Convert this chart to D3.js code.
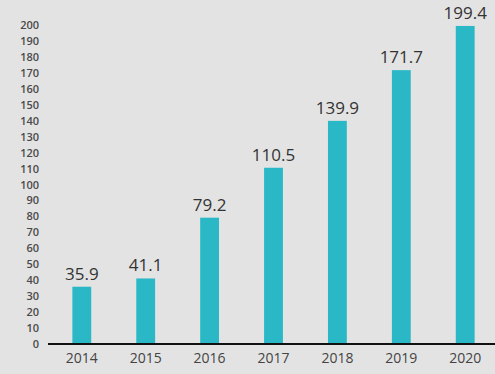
<!DOCTYPE html>
<html><head><meta charset="utf-8">
<script src="https://cdn.jsdelivr.net/npm/d3@7"></script>
<style>
html,body{margin:0;padding:0;background:#e3e3e3;}
svg{display:block;}
text{font-family:"Open Sans",sans-serif;}
</style></head>
<body><svg id="c" width="495" height="374"></svg>
<script>
const years = ["2014","2015","2016","2017","2018","2019","2020"];
const values = [35.9, 41.1, 79.2, 110.5, 139.9, 171.7, 199.4];
const yTicks = [0,10,20,30,40,50,60,70,80,90,100,110,120,130,140,150,160,170,180,190,200];

const svg = d3.select("#c");
svg.append("rect").attr("width",495).attr("height",374).attr("fill","#e3e3e3");

const x = d3.scaleBand().domain(years).range([50, 497]).paddingInner(0.705).paddingOuter(0.35);
const y = d3.scaleLinear().domain([0, 200]).range([344, 25]);

// y axis labels
const ya = svg.append("g").attr("transform","translate(39,0)")
  .call(d3.axisLeft(y).tickValues(yTicks).tickSize(0).tickPadding(0));
ya.select(".domain").remove();
ya.selectAll("text").attr("font-size","11px").attr("fill","#4a4a4a").attr("font-family","'Open Sans',sans-serif").attr("font-weight","600");

// bars
svg.selectAll("rect.bar").data(years).enter().append("rect")
  .attr("class","bar")
  .attr("x", d => x(d))
  .attr("width", x.bandwidth())
  .attr("y", (d,i) => y(values[i]))
  .attr("height", (d,i) => y(0) - y(values[i]))
  .attr("fill","#2bb8c6");

// x axis
const xa = svg.append("g").attr("transform","translate(0,344)")
  .call(d3.axisBottom(x).tickSize(0).tickPadding(9));
xa.select(".domain").attr("stroke","#111").attr("stroke-width",2).attr("d","M48,0H495");
xa.selectAll("text").attr("font-size","14px").attr("fill","#444").attr("font-family","'Open Sans',sans-serif");

// value labels
svg.selectAll("text.val").data(years).enter().append("text")
  .attr("class","val")
  .attr("x", d => x(d) + x.bandwidth()/2)
  .attr("y", (d,i) => y(values[i]) - 7)
  .attr("text-anchor","middle")
  .attr("font-size","17px")
  .attr("fill","#333")
  .text((d,i) => values[i].toFixed(1));
</script></body></html>
